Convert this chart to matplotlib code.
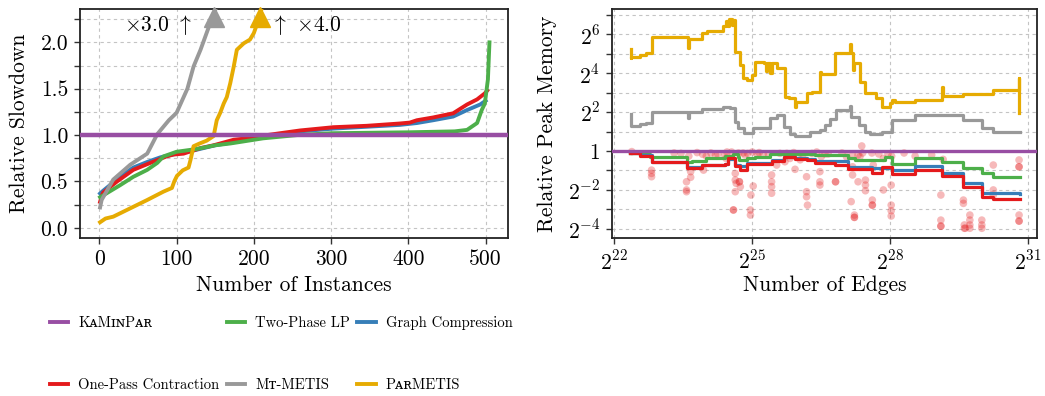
import numpy as np
import matplotlib
matplotlib.use('Agg')
import matplotlib.pyplot as plt
from matplotlib.ticker import MultipleLocator, FixedLocator, FuncFormatter, NullFormatter, NullLocator
from matplotlib.lines import Line2D

plt.rcParams['font.family'] = ['cmr10', 'DejaVu Serif']
plt.rcParams['mathtext.fontset'] = 'cm'
plt.rcParams['axes.formatter.use_mathtext'] = True
plt.rcParams['axes.unicode_minus'] = False

# colours
c_kaminpar = '#984ea3'
c_twophase = '#4daf4a'
c_compress = '#377eb8'
c_onepass = '#e41a1c'
c_mtmetis = '#999999'
c_parmetis = '#e6ab02'

# ---- left: relative slowdown over sorted instances ----
onepass_x = [1, 3, 5, 23, 44, 66, 87, 96, 109, 131, 148, 174, 191, 217, 234, 260, 303, 346, 389,
             402, 411, 432, 458, 476, 489, 499, 502]
onepass_y = [0.28, 0.34, 0.38, 0.50, 0.625, 0.70, 0.77, 0.79, 0.80, 0.86, 0.89, 0.95, 0.965, 1.0,
             1.02, 1.05, 1.085, 1.10, 1.125, 1.135, 1.16, 1.19, 1.235, 1.33, 1.385, 1.45, 1.48]

compress_x = [1, 5, 27, 44, 62, 79, 100, 120, 150, 200, 217, 260, 303, 346, 389, 411, 432, 458,
              476, 493, 500]
compress_y = [0.37, 0.40, 0.55, 0.65, 0.71, 0.76, 0.80, 0.83, 0.89, 0.96, 0.99, 1.04, 1.07, 1.09,
              1.11, 1.13, 1.16, 1.20, 1.27, 1.33, 1.37]

twophase_x = [1, 27, 44, 62, 75, 83, 100, 126, 150, 170, 212, 256, 300, 400, 460, 476, 489, 495,
              499, 503, 505]
twophase_y = [0.33, 0.46, 0.55, 0.625, 0.70, 0.77, 0.82, 0.85, 0.89, 0.91, 0.965, 1.0, 1.02, 1.03,
              1.04, 1.056, 1.13, 1.27, 1.34, 1.6, 2.0]

mtmetis_x = [1, 3, 18, 40, 62, 75, 90, 100, 114, 122, 131, 148, 155]
mtmetis_y = [0.22, 0.30, 0.52, 0.68, 0.80, 1.01, 1.16, 1.24, 1.50, 1.74, 1.92, 2.31, 2.45]

parmetis_x = [1, 8, 18, 40, 62, 83, 94, 97, 100.5, 108, 115.5, 118, 122, 130, 139, 148, 152,
              156.5, 161, 165, 169.5, 174, 178, 187, 195, 200, 206, 210]
parmetis_y = [0.06, 0.10, 0.12, 0.21, 0.30, 0.39, 0.43, 0.50, 0.56, 0.62, 0.65, 0.73, 0.88, 0.91,
              0.94, 0.99, 1.16, 1.24, 1.34, 1.41, 1.56, 1.74, 1.92, 1.99, 2.03, 2.10, 2.24, 2.36]

# where the curves leave the plot and their maximum
mtmetis_exit = 148
parmetis_exit = 208
mtmetis_max = 3.0
parmetis_max = 4.0

# ---- right: relative peak memory over number of edges (log2 values) ----
parmetis_e = [22.36, 22.36, 22.37, 22.55, 22.70, 22.81, 23.60, 23.62, 23.90, 24.01, 24.30, 24.37,
              24.42, 24.47, 24.50, 24.56, 24.58, 24.63, 24.73, 24.79, 24.88, 25.00, 25.06, 25.25,
              25.30, 25.33, 25.39, 25.42, 25.53, 25.71, 25.80, 25.93, 25.96, 26.18, 26.30, 26.47,
              26.50, 26.80, 27.12, 27.15, 27.18, 27.22, 27.34, 27.45, 27.70, 27.81, 27.99, 28.03,
              28.10, 28.54, 29.12, 29.14, 29.59, 30.24, 30.80, 30.80]
parmetis_m = [5.23, 4.77, 4.85, 4.95, 5.05, 5.88, 5.28, 5.74, 6.05, 6.15, 6.19, 6.45,
              6.70, 6.45, 6.77, 6.50, 6.75, 5.11, 4.42, 3.74, 3.65, 3.90, 4.59, 4.55,
              4.10, 4.55, 4.00, 4.50, 4.25, 2.79, 2.71, 2.28, 2.53, 3.00, 3.05, 4.08,
              3.96, 5.02, 5.50, 5.06, 4.16, 4.50, 3.56, 2.97, 2.71, 2.28, 2.45, 2.62,
              2.53, 2.62, 3.27, 2.83, 2.91, 3.12, 3.74, 1.94]

mtmetis_e = [22.36, 22.36, 22.55, 22.70, 22.81, 23.60, 23.62, 23.90, 24.37, 24.52, 24.63, 24.70,
             24.81, 25.02, 25.39, 25.53, 25.68, 25.82, 25.93, 26.25, 26.47, 26.58, 26.70, 26.83,
             27.12, 27.15, 27.31, 27.45, 27.56, 27.81, 28.03, 28.54, 29.59, 29.99, 30.24, 30.82]
mtmetis_m = [1.89, 1.29, 1.38, 1.46, 2.02, 1.68, 2.02, 2.16, 2.28, 2.20, 1.51, 1.17,
             0.91, 1.17, 1.68, 1.85, 1.25, 0.87, 0.77, 0.99, 1.08, 1.34, 1.63, 2.11,
             2.30, 1.77, 1.34, 0.97, 0.85, 0.97, 1.58, 1.85, 1.58, 1.17, 0.99, 0.99]

twophase_e = [22.34, 22.55, 22.78, 23.57, 23.68, 24.00, 24.40, 24.59, 24.70, 24.72, 24.88, 25.06,
              25.39, 26.36, 27.09, 27.23, 27.60, 27.88, 28.03, 28.54, 29.12, 29.59, 29.99, 30.24,
              30.82]
twophase_m = [-0.09, -0.15, -0.29, -0.55, -0.50, -0.38, -0.26, -0.15, -0.29, -0.46, -0.38, -0.29,
              -0.15, -0.20, -0.38, -0.46, -0.48, -0.33, -0.67, -0.38, -0.55, -0.89, -1.15, -1.32,
              -1.32]

onepass_e = [22.34, 22.55, 22.81, 23.57, 23.90, 24.40, 24.48, 24.63, 24.73, 24.88, 25.42, 25.68,
             25.93, 26.18, 26.36, 26.80, 27.09, 27.60, 27.81, 28.03, 28.54, 29.12, 29.59, 29.99,
             30.24, 30.82]
onepass_m = [-0.12, -0.25, -0.58, -0.89, -0.72, -0.67, -0.38, -0.78, -0.98, -0.67, -0.50, -0.33,
             -0.40, -0.46, -0.62, -0.72, -0.92, -1.15, -0.84, -1.18, -0.96, -1.27, -1.85, -2.38,
             -2.48, -2.48]

compress_e = [22.34, 22.55, 22.81, 23.57, 23.90, 24.40, 24.48, 24.63, 24.73, 24.88, 25.42, 25.68,
              25.93, 26.18, 26.36, 27.09, 27.60, 28.03, 28.54, 29.12, 29.59, 29.99, 30.82]
compress_m = [-0.10, -0.22, -0.55, -0.80, -0.70, -0.65, -0.40, -0.72, -0.75, -0.62, -0.48, -0.30,
              -0.36, -0.42, -0.50, -0.82, -0.86, -1.00, -0.76, -1.15, -1.66, -2.17, -2.21]

# per-instance one-pass contraction values (log2 edges, log2 memory)
points_e = [22.38, 22.81, 22.81, 22.81, 23.62, 23.57, 23.57, 23.57, 23.66, 23.66, 23.92, 24.00,
            23.94, 24.40, 24.43, 24.59, 24.59, 24.63, 24.63, 24.65, 24.63, 24.72, 24.72, 24.74,
            24.84, 24.90, 24.97, 24.96, 24.96, 25.02, 25.10, 25.24, 25.35, 25.42, 25.42, 25.42,
            25.42, 25.53, 25.71, 25.82, 25.93, 26.04, 26.18, 26.18, 26.18, 26.20, 26.47, 26.47,
            26.47, 26.50, 26.58, 26.81, 26.81, 27.17, 27.18, 27.18, 27.15, 27.22, 27.22, 27.22,
            27.30, 27.34, 27.30, 27.38, 27.46, 27.46, 27.46, 27.61, 27.61, 27.61, 27.63, 27.85,
            27.85, 28.03, 28.02, 28.02, 28.02, 28.02, 28.54, 29.10, 29.10, 29.10, 29.10, 29.15,
            29.59, 29.59, 29.61, 29.61, 29.63, 29.73, 29.73, 29.73, 29.73, 29.99, 29.99, 29.99,
            30.24, 30.24, 30.24, 30.80, 30.80, 30.80, 30.80, 30.80, 30.80, 23.30, 23.45, 24.10,
            24.20, 24.55, 24.70, 25.00, 25.60, 25.90, 26.10, 26.30, 26.65, 26.95, 27.05, 27.60,
            27.75, 28.30, 28.90, 23.80, 24.25, 24.45, 24.80, 25.15, 25.75, 26.40, 27.40, 27.95]
points_m = [-0.03, -0.98, -1.15, -1.32, -0.26, -1.58, -2.00, -2.09, -1.06, -1.35, -0.17, -0.26,
            -0.98, -0.20, -0.38, -3.03, -3.03, -1.15, -1.49, -1.66, -2.09, -1.58, -1.58, -1.83,
            -0.20, -0.12, -2.26, -3.03, -3.29, -1.80, -0.15, -0.15, -0.15, -1.23, -1.58, -1.83,
            -2.17, -0.72, -0.55, -0.38, -0.94, -0.45, -1.32, -2.09, -2.35, -2.78, -1.06, -1.58,
            -1.75, -0.29, -0.15, -1.58, -1.58, -0.20, -0.81, -1.23, -2.60, -3.29, -3.41, -3.41,
            -0.20, -0.29, -1.58, 0.26, -1.49, -1.75, -2.04, -2.52, -2.78, -2.78, -0.72, -2.00,
            -0.38, -0.26, -1.75, -2.78, -3.07, -3.34, -0.26, -2.26, -3.55, -3.86, -3.86, -0.43,
            -2.52, -2.69, -3.80, -3.97, -3.97, -3.29, -3.55, -3.80, -3.97, -3.55, -3.80, -3.97,
            -0.72, -2.00, -2.26, -0.46, -0.81, -0.81, -3.29, -3.60, -3.60, -0.10, -0.12, -0.10,
            -0.20, -0.05, -0.10, -0.05, -0.12, -0.08, -0.20, -0.12, -0.15, -0.10, -0.30, -0.10,
            -0.15, -0.10, -0.20, -0.08, -0.15, -0.05, -0.10, -0.08, -0.12, -0.05, -0.10, -0.15]

fig = plt.figure(figsize=(10.45, 3.96), dpi=100)
ax1 = fig.add_axes([80 / 1045, 158 / 396, 428 / 1045, 229 / 396])
ax2 = fig.add_axes([612 / 1045, 158 / 396, 425 / 1045, 229 / 396])

grid_kw = dict(color='#c4c4c4', linestyle=(0, (3, 3)), linewidth=0.8)
lw = 2.8
fs = 15.5

# left panel
ax1.plot(compress_x, compress_y, color=c_compress, lw=lw, zorder=3)
ax1.plot(onepass_x, onepass_y, color=c_onepass, lw=lw, zorder=3)
ax1.plot(twophase_x, twophase_y, color=c_twophase, lw=lw, zorder=3)
ax1.plot(mtmetis_x, mtmetis_y, color=c_mtmetis, lw=lw, zorder=3)
ax1.plot(parmetis_x, parmetis_y, color=c_parmetis, lw=lw, zorder=3)
ax1.axhline(1.0, color=c_kaminpar, lw=3.2, zorder=4)
ax1.set_xlim(-25, 529)
ax1.set_ylim(-0.11, 2.36)
ax1.plot([mtmetis_exit], [2.27], marker='^', ms=14, color=c_mtmetis, clip_on=False, zorder=5)
ax1.plot([parmetis_exit], [2.27], marker='^', ms=14, color=c_parmetis, clip_on=False, zorder=5)
ax1.text(mtmetis_exit - 28, 2.19, r'$\times$%.1f $\uparrow$' % mtmetis_max, ha='right',
         va='center', fontsize=fs)
ax1.text(parmetis_exit + 14, 2.19, r'$\uparrow$ $\times$%.1f' % parmetis_max, ha='left',
         va='center', fontsize=fs)
ax1.xaxis.set_major_locator(MultipleLocator(100))
ax1.yaxis.set_major_locator(MultipleLocator(0.5))
ax1.yaxis.set_minor_locator(MultipleLocator(0.25))
ax1.yaxis.set_major_formatter(FuncFormatter(lambda v, p: '%.1f' % v))
ax1.xaxis.set_major_formatter(FuncFormatter(lambda v, p: '%d' % v))
ax1.grid(True, which='both', **grid_kw)
ax1.set_xlabel('Number of Instances', fontsize=fs)
ax1.set_ylabel('Relative Slowdown', fontsize=fs)
ax1.xaxis.set_label_coords(0.5, -0.165)
ax1.yaxis.set_label_coords(-0.12, 0.5)

# right panel
ax2.scatter(2.0 ** np.array(points_e), 2.0 ** np.array(points_m), s=30, color=c_onepass,
            alpha=0.3, edgecolors='none', zorder=2)
ax2.step(2.0 ** np.array(parmetis_e), 2.0 ** np.array(parmetis_m), where='post',
         color=c_parmetis, lw=2.3, zorder=3)
ax2.step(2.0 ** np.array(mtmetis_e), 2.0 ** np.array(mtmetis_m), where='post',
         color=c_mtmetis, lw=2.3, zorder=3)
ax2.step(2.0 ** np.array(twophase_e), 2.0 ** np.array(twophase_m), where='post',
         color=c_twophase, lw=2.3, zorder=3)
ax2.step(2.0 ** np.array(compress_e), 2.0 ** np.array(compress_m), where='post',
         color=c_compress, lw=2.3, zorder=3)
ax2.step(2.0 ** np.array(onepass_e), 2.0 ** np.array(onepass_m), where='post',
         color=c_onepass, lw=2.3, zorder=3)
ax2.axhline(1.0, color=c_kaminpar, lw=2.4, zorder=4)
ax2.set_xscale('log', base=2)
ax2.set_yscale('log', base=2)
ax2.set_xlim(2.0 ** 21.95, 2.0 ** 31.19)
ax2.set_ylim(2.0 ** -4.47, 2.0 ** 7.3)
ax2.xaxis.set_major_locator(FixedLocator([2.0 ** k for k in (22, 25, 28, 31)]))
ax2.xaxis.set_minor_locator(NullLocator())
ax2.xaxis.set_major_formatter(FuncFormatter(lambda v, p: r'$2^{%d}$' % round(np.log2(v))))
ax2.yaxis.set_major_locator(FixedLocator([2.0 ** k for k in (-4, -2, 0, 2, 4, 6)]))
ax2.yaxis.set_minor_locator(FixedLocator([2.0 ** k for k in (-3, -1, 1, 3, 5, 7)]))
ax2.yaxis.set_minor_formatter(NullFormatter())


def ylab(v, p):
    k = round(np.log2(v))
    return '$1$' if k == 0 else r'$2^{%d}$' % k


ax2.yaxis.set_major_formatter(FuncFormatter(ylab))
ax2.grid(True, which='both', **grid_kw)
ax2.set_xlabel('Number of Edges', fontsize=fs)
ax2.set_ylabel('Relative Peak Memory', fontsize=fs)
ax2.xaxis.set_label_coords(0.5, -0.165)
ax2.yaxis.set_label_coords(-0.13, 0.5)

for ax in (ax1, ax2):
    ax.set_axisbelow(True)
    ax.tick_params(which='both', direction='out', length=4.5, width=1.0, color='#333333',
                   labelsize=fs, pad=4)
    ax.tick_params(axis='x', pad=4)
    for s in ax.spines.values():
        s.set_linewidth(1.3)
        s.set_color('#222222')

handles = [
    Line2D([], [], color=c_kaminpar, lw=2.8),
    Line2D([], [], color=c_onepass, lw=2.8),
    Line2D([], [], color=c_twophase, lw=2.8),
    Line2D([], [], color=c_mtmetis, lw=2.8),
    Line2D([], [], color=c_compress, lw=2.8),
    Line2D([], [], color=c_parmetis, lw=2.8),
]
labels = ['K\u1d00M\u026a\u0274P\u1d00\u0280', 'One-Pass Contraction', 'Two-Phase LP',
          'M\u1d1b-METIS', 'Graph Compression', 'P\u1d00\u0280METIS']
fig.legend(handles, labels, ncol=3, loc='upper left', bbox_to_anchor=(50 / 1045, 1 - 316 / 396),
           frameon=False, fontsize=10.5, handlelength=1.25, handletextpad=0.7, columnspacing=0.5,
           labelspacing=3.3, borderpad=0, borderaxespad=0)

fig.savefig('out.png', dpi=100)
